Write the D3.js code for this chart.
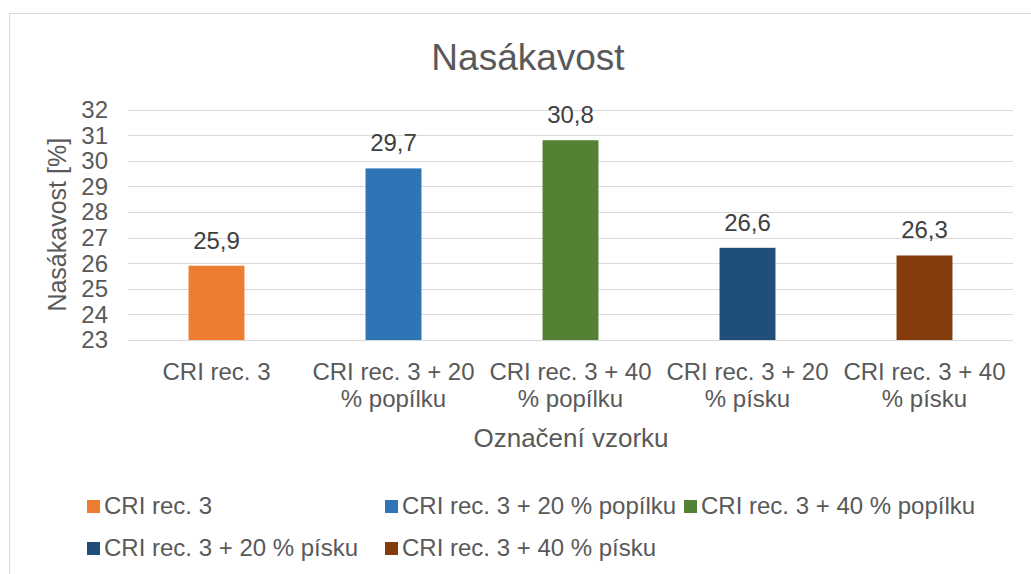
<!DOCTYPE html>
<html>
<head>
<meta charset="utf-8">
<script src="https://cdn.jsdelivr.net/npm/d3@7"></script>
<style>
  body { margin: 0; background: #fff; }
  text { font-family: Arial, "Liberation Sans", sans-serif; fill: #595959; }
</style>
</head>
<body>
<svg width="1031" height="574"></svg>
<script>
// data
var categories = [
  ["CRI rec. 3"],
  ["CRI rec. 3 + 20", "% popílku"],
  ["CRI rec. 3 + 40", "% popílku"],
  ["CRI rec. 3 + 20", "% písku"],
  ["CRI rec. 3 + 40", "% písku"]
];
var legendNames = ["CRI rec. 3", "CRI rec. 3 + 20 % popílku", "CRI rec. 3 + 40 % popílku",
                   "CRI rec. 3 + 20 % písku", "CRI rec. 3 + 40 % písku"];
var values = [25.9, 29.7, 30.8, 26.6, 26.3];
var colors = ["#ED7D31", "#2E75B6", "#548235", "#1F4E79", "#843C0C"];
var yTicks = [23, 24, 25, 26, 27, 28, 29, 30, 31, 32];

var svg = d3.select("svg");

// chart border
svg.append("rect")
  .attr("x", 9.5).attr("y", 13.5)
  .attr("width", 1040).attr("height", 600)
  .attr("fill", "none").attr("stroke", "#d9d9d9");

var plotL = 128, plotR = 1013, plotT = 109.5, plotB = 340;

var x = d3.scaleBand().domain(d3.range(values.length)).range([plotL, plotR]).paddingInner(0.684).paddingOuter(0.342);
var y = d3.scaleLinear().domain([23, 32]).range([plotB, plotT]);

// gridlines
svg.append("g").selectAll("line")
  .data(yTicks)
  .enter().append("line")
  .attr("x1", plotL).attr("x2", plotR)
  .attr("y1", function(d) { return Math.round(y(d)) + 0.5; })
  .attr("y2", function(d) { return Math.round(y(d)) + 0.5; })
  .attr("stroke", "#d9d9d9");

// tick labels
svg.append("g").selectAll("text")
  .data(yTicks)
  .enter().append("text")
  .attr("x", 108).attr("y", function(d) { return y(d); })
  .attr("dy", "0.35em")
  .attr("text-anchor", "end")
  .style("font-size", "24px")
  .text(function(d) { return d; });

// bars
svg.append("g").selectAll("rect")
  .data(values)
  .enter().append("rect")
  .attr("x", function(d, i) { return x(i); })
  .attr("width", x.bandwidth())
  .attr("y", function(d) { return y(d); })
  .attr("height", function(d) { return plotB - y(d); })
  .attr("fill", function(d, i) { return colors[i]; });

// axis line
svg.append("line")
  .attr("x1", plotL).attr("x2", plotR)
  .attr("y1", plotB + 0.5).attr("y2", plotB + 0.5)
  .attr("stroke", "#d9d9d9");

// value labels
svg.append("g").selectAll("text")
  .data(values)
  .enter().append("text")
  .attr("x", function(d, i) { return x(i) + x.bandwidth() / 2; })
  .attr("y", function(d) { return y(d) - 17; })
  .attr("text-anchor", "middle")
  .style("font-size", "24px")
  .style("fill", "#404040")
  .text(function(d) { return String(d).replace(".", ","); });

// category labels
var cat = svg.append("g").selectAll("text")
  .data(categories)
  .enter().append("text")
  .attr("text-anchor", "middle")
  .attr("x", function(d, i) { return x(i) + x.bandwidth() / 2; })
  .attr("y", 380)
  .style("font-size", "24px");
cat.selectAll("tspan")
  .data(function(d) { return d; })
  .enter().append("tspan")
  .attr("x", function() { return this.parentNode.getAttribute("x"); })
  .attr("dy", function(d, i) { return i ? 27 : 0; })
  .text(function(d) { return d; });

// titles
svg.append("text")
  .attr("x", 528).attr("y", 70)
  .attr("text-anchor", "middle")
  .style("font-size", "37px")
  .text("Nasákavost");

svg.append("text")
  .attr("transform", "translate(66," + (plotT + plotB) / 2 + ") rotate(-90)")
  .attr("text-anchor", "middle")
  .style("font-size", "25px")
  .text("Nasákavost [%]");

svg.append("text")
  .attr("x", 571).attr("y", 447)
  .attr("text-anchor", "middle")
  .style("font-size", "26px")
  .text("Označení vzorku");

// legend
var legendPos = [[87, 514], [385, 514], [684, 514], [87, 556], [385, 556]];
var leg = svg.append("g").selectAll("g")
  .data(legendNames)
  .enter().append("g")
  .attr("transform", function(d, i) { return "translate(" + legendPos[i][0] + "," + legendPos[i][1] + ")"; });
leg.append("rect")
  .attr("x", 0).attr("y", -14).attr("width", 13).attr("height", 13)
  .attr("fill", function(d, i) { return colors[i]; });
leg.append("text")
  .attr("x", 17)
  .style("font-size", "24px")
  .text(function(d) { return d; });
</script>
</body>
</html>
